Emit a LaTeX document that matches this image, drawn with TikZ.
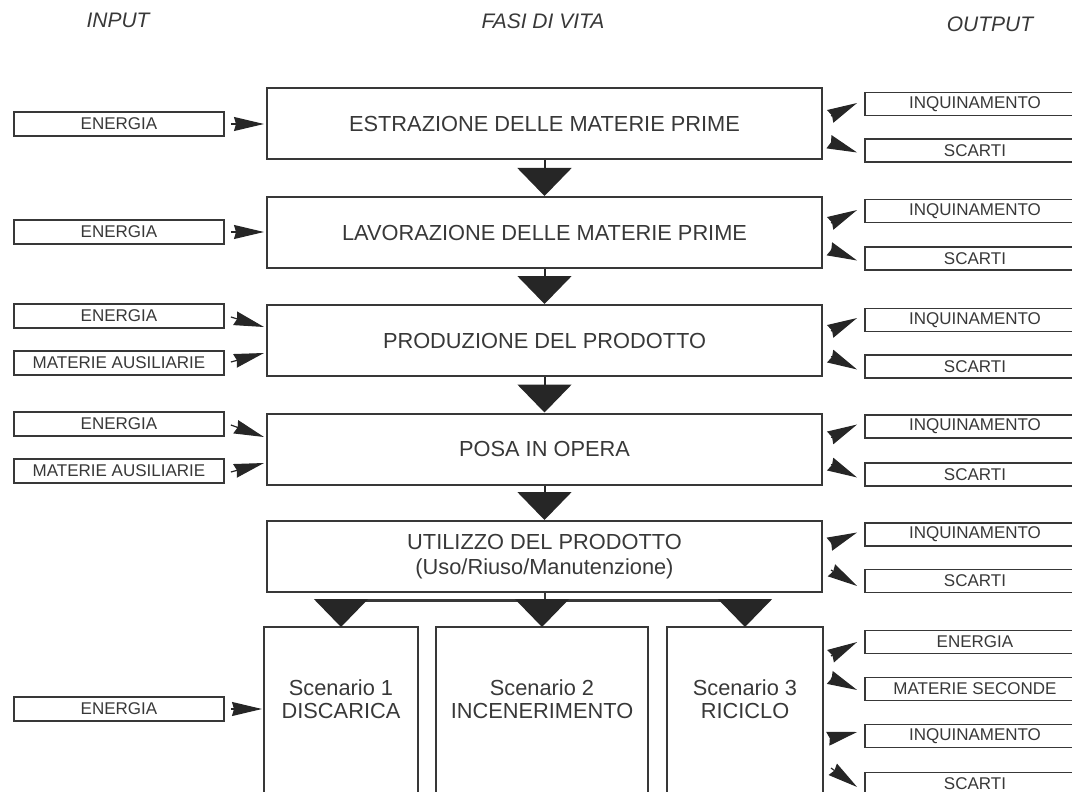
\documentclass[tikz,border=0pt]{standalone}
\usepackage{fontspec}
\setmainfont{Liberation Sans}
\usetikzlibrary{arrows.meta,calc}

\definecolor{ink}{gray}{0.22}

\begin{document}
\begin{tikzpicture}
  [x=0.5pt,y=-0.5pt,
   every node/.style={draw=ink,line width=1pt,text=ink,inner sep=0pt},
   phase/.style={minimum width=277.5pt,minimum height=35.5pt,align=center,
     font=\fontsize{10.9}{12.5}\selectfont},
   inbox/.style={line width=0.9pt,minimum width=105pt,minimum height=12pt,
     font=\fontsize{8.5}{10}\selectfont},
   outbox/.style={inbox,minimum width=110pt,minimum height=11.5pt},
   scen/.style={draw=none,minimum height=71pt,align=center,
     font=\fontsize{10.9}{11.5}\selectfont},
   head/.style={draw=none,font=\fontsize{10.5}{12}\selectfont\itshape},
   frame/.style={draw=ink,line width=1pt},
   down/.style={draw=black!85,line width=1pt,-{Triangle[length=14pt,width=27pt]}},
   wedge/.style={draw=black!85,line width=0.6pt,-{Stealth[length=15pt,width=7pt,inset=1pt]}}]

  \useasboundingbox (0,0) rectangle (1072,792);

  \node[head] (hin)   at (118,20) {INPUT};
  \node[head] (hfasi) at (543,21) {FASI DI VITA};
  \node[head] (hout)  at (990,24) {OUTPUT};

  % fasi
  \node[phase] (est)  at (544.5,124)   {ESTRAZIONE DELLE MATERIE PRIME};
  \node[phase] (lav)  at (544.5,232.5) {LAVORAZIONE DELLE MATERIE PRIME};
  \node[phase] (prod) at (544.5,340.5) {PRODUZIONE DEL PRODOTTO};
  \node[phase] (posa) at (544.5,449)   {POSA IN OPERA};
  \node[phase] (uso)  at (544.5,556.5) {UTILIZZO DEL PRODOTTO\\(Uso/Riuso/Manutenzione)};

  \node[scen,minimum width=76pt]  (sa) at (341,699) {Scenario 1\\DISCARICA};
  \node[scen,minimum width=105pt] (sb) at (542,699) {Scenario 2\\INCENERIMENTO};
  \node[scen,minimum width=77pt]  (sc) at (745,699) {Scenario 3\\RICICLO};
  \foreach \s in {sa,sb,sc}
    \draw[frame] (\s.north west) rectangle ([yshift=-20pt]\s.south east);

  % input
  \node[inbox] (e1) at (119,124) {ENERGIA};
  \node[inbox] (e2) at (119,232) {ENERGIA};
  \node[inbox] (e3) at (119,316) {ENERGIA};
  \node[inbox] (m3) at (119,363) {MATERIE AUSILIARIE};
  \node[inbox] (e4) at (119,424) {ENERGIA};
  \node[inbox] (m4) at (119,471) {MATERIE AUSILIARIE};
  \node[inbox] (e5) at (119,709) {ENERGIA};

  % output
  \node[outbox] (i1) at (975,104)   {INQUINAMENTO};
  \node[outbox] (s1) at (975,150.5) {SCARTI};
  \node[outbox] (i2) at (975,211)   {INQUINAMENTO};
  \node[outbox] (s2) at (975,258.5) {SCARTI};
  \node[outbox] (i3) at (975,320)   {INQUINAMENTO};
  \node[outbox] (s3) at (975,366.5) {SCARTI};
  \node[outbox] (i4) at (975,426.5) {INQUINAMENTO};
  \node[outbox] (s4) at (975,474.5) {SCARTI};
  \node[outbox] (i5) at (975,534.5) {INQUINAMENTO};
  \node[outbox] (s5) at (975,581)   {SCARTI};
  \node[outbox] (eo) at (975,642)   {ENERGIA};
  \node[outbox] (ms) at (975,689)   {MATERIE SECONDE};
  \node[outbox] (i6) at (975,736)   {INQUINAMENTO};
  \node[outbox] (s6) at (975,784)   {SCARTI};

  \foreach \from/\to in {est/lav,lav/prod,prod/posa,posa/uso}
    \draw[down] (\from) -- (\to);

  \coordinate (bar) at ($(uso.south)+(0,7)$);
  \draw[frame] (uso.south) -- (bar);
  \draw[frame,line width=1.5pt] (bar -| sa.north) -- (bar -| sc.north);
  \foreach \s in {sa,sb,sc}
    \draw[down] (bar -| \s.north) -- (\s.north);

  \foreach \from/\to/\ya/\yb in {e1/est/0/0,e2/lav/0/0,e3/prod/1/11,m3/prod/-1/-10,
      e4/posa/1/13,m4/posa/1/-8,e5/sa/0/0}
    \draw[wedge] ($(\from.east)+(6,\ya)$) -- ($(\to.west |- \from.east)+(-2,\yb)$);

  \foreach \from/\to/\ya/\yb in {est/i1/12/-1,est/s1/-8/2,lav/i2/12/-1,lav/s2/-9/2,
      prod/i3/11/-2,prod/s3/-10/3,posa/i4/11/-2,posa/s4/-10/3,uso/i5/9/-2,uso/s5/-11/5,
      sc/eo/14/0,sc/ms/-11/1,sc/i6/2/-4,sc/s6/-16/3}
    \draw[wedge] ($(\from.east |- \to.west)+(8,\ya)$) -- ($(\to.west)+(-7,\yb)$);

\end{tikzpicture}
\end{document}
